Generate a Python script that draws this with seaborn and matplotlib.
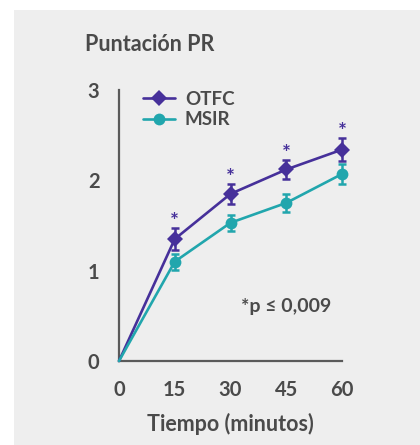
import matplotlib
matplotlib.use("Agg")
import matplotlib.pyplot as plt
import seaborn as sns
import pandas as pd
from matplotlib.lines import Line2D

minutes = [0, 15, 30, 45, 60]
otfc = [0, 1.35, 1.85, 2.12, 2.34]
otfc_err = [0, 0.12, 0.11, 0.11, 0.13]
msir = [0, 1.10, 1.53, 1.75, 2.07]
msir_err = [0, 0.09, 0.09, 0.10, 0.11]
star_minutes = [15, 30, 45, 60]
series_names = ["OTFC", "MSIR"]
xticks = [0, 15, 30, 45, 60]
yticks = [0, 1, 2, 3]

purple = "#46309a"
teal = "#21a6ad"
text_c = "#4a4a4a"
axis_c = "#5a5a5a"
bg = "#eeeeee"

sns.set_style("white")
plt.rcParams['font.family'] = ['Lato', 'DejaVu Sans']

df = pd.DataFrame({
    "t": minutes * 2,
    "v": otfc + msir,
    "s": [series_names[0]] * len(minutes) + [series_names[1]] * len(minutes),
})

fig = plt.figure(figsize=(4.2, 4.45), dpi=100)
fig.patch.set_facecolor("white")
fig.add_artist(plt.Rectangle((14 / 420, 0), 1, 1 - 10 / 445, transform=fig.transFigure,
                             facecolor=bg, edgecolor="none", zorder=0))
ax = fig.add_axes([119 / 420, 1 - 361 / 445, (342 - 119) / 420, (361 - 90) / 445])
ax.set_facecolor("none")

sns.lineplot(data=df, x="t", y="v", hue="s", style="s",
             palette={"OTFC": purple, "MSIR": teal},
             markers={"OTFC": "D", "MSIR": "o"}, dashes=False,
             markersize=8.5, linewidth=1.9, markeredgewidth=0,
             legend=False, ax=ax, clip_on=False, zorder=3)
for line in ax.lines:
    line.set_clip_on(False)
    line.set_markevery(list(range(1, len(minutes))))

ax.errorbar(minutes[1:], otfc[1:], yerr=otfc_err[1:], fmt="none", ecolor=purple,
            elinewidth=1.8, capsize=3, capthick=1.8, clip_on=False, zorder=4)
ax.errorbar(minutes[1:], msir[1:], yerr=msir_err[1:], fmt="none", ecolor=teal,
            elinewidth=1.8, capsize=3, capthick=1.8, clip_on=False, zorder=4)

for m in star_minutes:
    i = minutes.index(m)
    ax.text(m, otfc[i] + otfc_err[i] - 0.045, "*", color=purple, ha="center", va="bottom",
            fontsize=15, fontweight="bold", clip_on=False)

ax.text(45, 0.6, "*p ≤ 0,009", color=text_c, ha="center", va="center",
        fontsize=14, fontweight="bold")

ax.set_xlim(0, 60)
ax.set_ylim(0, 3)
ax.set_xticks(xticks)
ax.set_yticks(yticks)
ax.set_xticklabels([str(v) for v in xticks])
ax.set_yticklabels([str(v) for v in yticks])
ax.tick_params(axis="both", length=8, width=1.6, color=axis_c, labelcolor=text_c,
               labelsize=14.5, pad=6, direction="out")
for lab in ax.get_xticklabels() + ax.get_yticklabels():
    lab.set_fontweight("bold")
for s in ["top", "right"]:
    ax.spines[s].set_visible(False)
for s in ["left", "bottom"]:
    ax.spines[s].set_color(axis_c)
    ax.spines[s].set_linewidth(1.6)
ax.set_xlabel("Tiempo (minutos)", color=text_c, fontsize=15.5, fontweight="bold", labelpad=9)
ax.set_ylabel("")

handles = [Line2D([], [], color=purple, marker="D", markersize=8.5, linewidth=1.9, markeredgewidth=0),
           Line2D([], [], color=teal, marker="o", markersize=8.5, linewidth=1.9, markeredgewidth=0)]
leg = ax.legend(handles, series_names, loc="upper left", bbox_to_anchor=(0.03, 1.06),
                frameon=False, handlelength=1.75, handletextpad=0.5, labelspacing=0.2,
                prop={"weight": "bold", "size": 13.5})
for t in leg.get_texts():
    t.set_color(text_c)

fig.text(85 / 420, 1 - 51 / 445, "Puntación PR", color=text_c, fontsize=15.5,
         fontweight="bold", ha="left", va="baseline")

fig.savefig("out.png", dpi=100, facecolor=fig.get_facecolor())
